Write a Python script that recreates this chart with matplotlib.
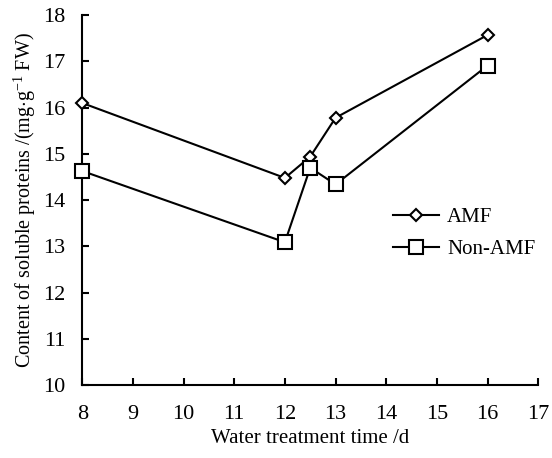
import matplotlib
matplotlib.use('Agg')
import matplotlib.pyplot as plt

# data
dias = [8, 12, 12.5, 13, 16]
amf = [16.1, 14.48, 14.94, 15.78, 17.57]
non_amf = [14.63, 13.09, 14.70, 14.34, 16.91]

plt.rcParams['font.family'] = ['Liberation Serif', 'DejaVu Serif']
plt.rcParams['mathtext.fontset'] = 'custom'
plt.rcParams['mathtext.rm'] = 'Liberation Serif'
plt.rcParams['mathtext.it'] = 'Liberation Serif:italic'

fig = plt.figure(figsize=(5.52, 4.58), dpi=100)
ax = fig.add_axes([0.149, 0.159, 0.826, 0.808])

ax.plot(dias, amf, color='black', lw=1.5, marker='D', markersize=6.5,
        markerfacecolor='white', markeredgecolor='black', markeredgewidth=1.5,
        label='AMF', clip_on=False, zorder=3)
ax.plot(dias, non_amf, color='black', lw=1.5, marker='s', markersize=10,
        markerfacecolor='white', markeredgecolor='black', markeredgewidth=1.5,
        label='Non-AMF', clip_on=False, zorder=3)

ax.set_xlim(8, 17)
ax.set_ylim(10, 18)
ax.set_xticks(range(8, 18))
ax.set_yticks(range(10, 19))

for s in ['top', 'right']:
    ax.spines[s].set_visible(False)
for s in ['left', 'bottom']:
    ax.spines[s].set_linewidth(1.5)

ax.tick_params(direction='in', length=5, width=1.5, labelsize=16)
ax.tick_params(axis='x', pad=14)
ax.tick_params(axis='y', pad=12)

ax.set_xlabel('Water treatment time /d', fontsize=15, labelpad=4)
ax.set_ylabel(r'Content of soluble proteins /(mg$\cdot$g$^{-1}$ FW)', fontsize=14.5, labelpad=4)

ax.legend(loc='upper left', bbox_to_anchor=(0.64, 0.53), frameon=False,
          fontsize=15, handlelength=2.2, handletextpad=0.4, labelspacing=0.6)

fig.savefig('out.png', dpi=100)
